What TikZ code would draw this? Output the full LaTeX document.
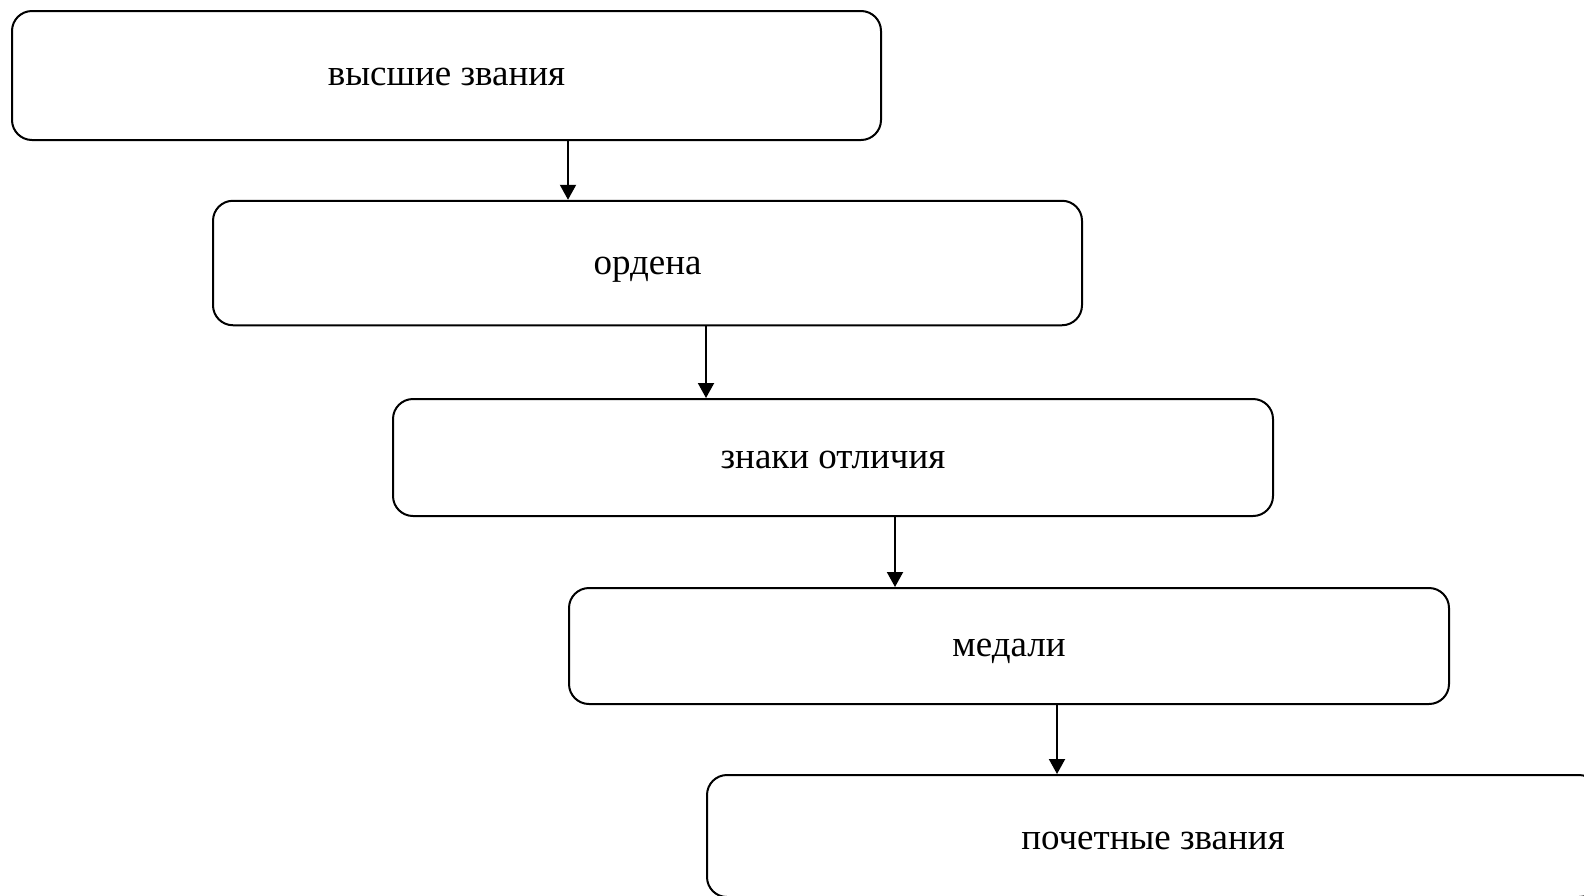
\documentclass[tikz,border=0pt]{standalone}
\usepackage{fontspec}
\setmainfont{Liberation Serif}
\usetikzlibrary{arrows.meta}
\newcommand{\lowered}[2]{\raisebox{-#1pt}[\height][\depth]{#2}}
\begin{document}
\begin{tikzpicture}[x=1pt,y=-1pt,
  box/.style={draw=black,line width=2pt,rounded corners=20pt,fill=white,
    inner sep=0pt,font=\fontsize{37}{44}\selectfont},
  arr/.style={line width=2pt,-{Triangle[width=16pt,length=15pt]}}]
\useasboundingbox (0,0) rectangle (1584,895);
\clip (0,0) rectangle (1584,895);
\fill[white] (0,0) rectangle (1584,895);
\node[box,minimum width=869pt,minimum height=129pt] (b1) at (446.5,75.5) {\lowered{1}{высшие звания}};
\node[box,minimum width=869pt,minimum height=124.5pt] (b2) at (647.5,263) {\lowered{7}{ордена}};
\node[box,minimum width=880pt,minimum height=117pt] (b3) at (833,457.5) {\lowered{2}{знаки отличия}};
\node[box,minimum width=880pt,minimum height=116pt] (b4) at (1009,646) {\lowered{5}{медали}};
\node[box,minimum width=892pt,minimum height=122pt] (b5) at (1153,836) {\lowered{5}{почетные звания}};
\draw[arr] ([xshift=557pt]b1.south west) -- ([xshift=356pt]b2.north west);
\draw[arr] ([xshift=494pt]b2.south west) -- ([xshift=314pt]b3.north west);
\draw[arr] ([xshift=503pt]b3.south west) -- ([xshift=327pt]b4.north west);
\draw[arr] ([xshift=489pt]b4.south west) -- ([xshift=351pt]b5.north west);
\end{tikzpicture}
\end{document}
